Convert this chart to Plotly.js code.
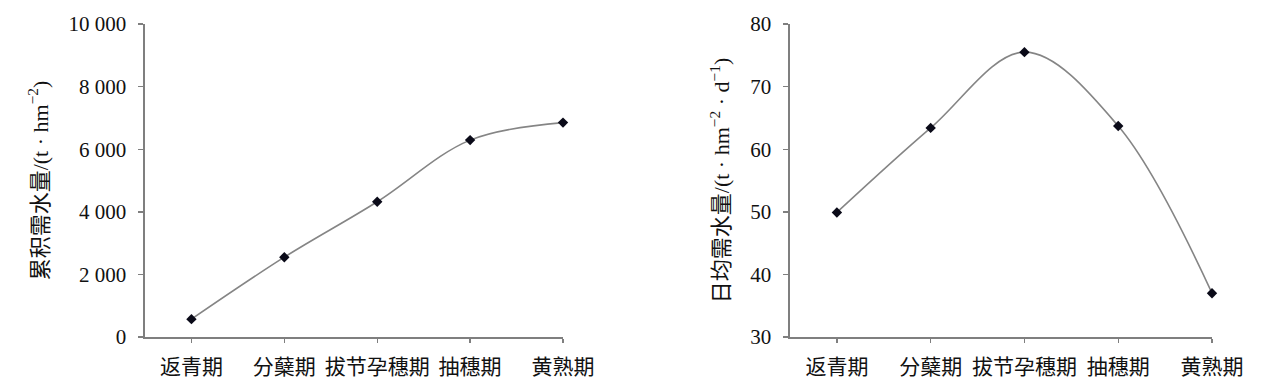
<!DOCTYPE html>
<html><head><meta charset="utf-8">
<script src="https://cdn.plot.ly/plotly-3.0.1.min.js"></script>
<style>html,body{margin:0;padding:0;background:#fff}#chart{width:1268px;height:383px}</style>
</head><body><div id="chart"></div>
<script>
const stages = ["返青期", "分蘖期", "拔节孕穗期", "抽穗期", "黄熟期"];
const cumulativeWater = [570, 2550, 4320, 6290, 6850];
const dailyWater = [49.9, 63.4, 75.5, 63.7, 37.0];
const leftTicks = [0, 2000, 4000, 6000, 8000, 10000];
const leftTickText = ["0", "2 000", "4 000", "6 000", "8 000", "10 000"];
const rightTicks = [30, 40, 50, 60, 70, 80];

const lineStyle = {color: "#858585", width: 1.6, shape: "spline", smoothing: 1};
const markerStyle = {symbol: "diamond", size: 8, color: "#0a0a18"};
const font = {family: "'Liberation Serif', 'Noto Sans CJK SC', serif", size: 21, color: "#111"};
const titleFont = {family: font.family, size: 22, color: "#111"};
const axisCommon = {
  showline: true, linecolor: "#7f7f7f", linewidth: 1.6, showgrid: false, zeroline: false,
  ticks: "outside", tickcolor: "#7f7f7f", tickwidth: 1.4, automargin: false, tickfont: font
};

const traces = [
  {x: stages, y: cumulativeWater, xaxis: "x", yaxis: "y", type: "scatter", mode: "lines+markers",
   line: lineStyle, marker: markerStyle, showlegend: false, cliponaxis: false},
  {x: stages, y: dailyWater, xaxis: "x2", yaxis: "y2", type: "scatter", mode: "lines+markers",
   line: lineStyle, marker: markerStyle, showlegend: false, cliponaxis: false}
];

const yDomain = [1 - 337/383, 1 - 24/383];
const layout = {
  width: 1268, height: 383,
  margin: {l: 0, r: 0, t: 0, b: 0},
  paper_bgcolor: "#fff", plot_bgcolor: "#fff",
  font: font,
  xaxis: Object.assign({}, axisCommon, {domain: [145/1268, 563/1268], anchor: "y", type: "category",
    range: [-0.5, 4.0], ticklen: 4, ticklabelstandoff: 6}),
  yaxis: Object.assign({}, axisCommon, {domain: yDomain, anchor: "x", range: [0, 10000],
    tickvals: leftTicks, ticktext: leftTickText, ticklen: 5, ticklabelstandoff: 8,
    title: {text: "累积需水量/(t · hm<sup>−2</sup>)", font: titleFont, standoff: 14}}),
  xaxis2: Object.assign({}, axisCommon, {domain: [790/1268, 1212/1268], anchor: "y2", type: "category",
    range: [-0.5, 4.0], ticklen: 4, ticklabelstandoff: 6}),
  yaxis2: Object.assign({}, axisCommon, {domain: yDomain, anchor: "x2", range: [30, 80],
    tickvals: rightTicks, ticklen: 5, ticklabelstandoff: 8,
    title: {text: "日均需水量/(t · hm<sup>−2</sup> · d<sup>−1</sup>)", font: titleFont, standoff: 14}})
};

Plotly.newPlot("chart", traces, layout, {staticPlot: true, displayModeBar: false});
</script></body></html>
